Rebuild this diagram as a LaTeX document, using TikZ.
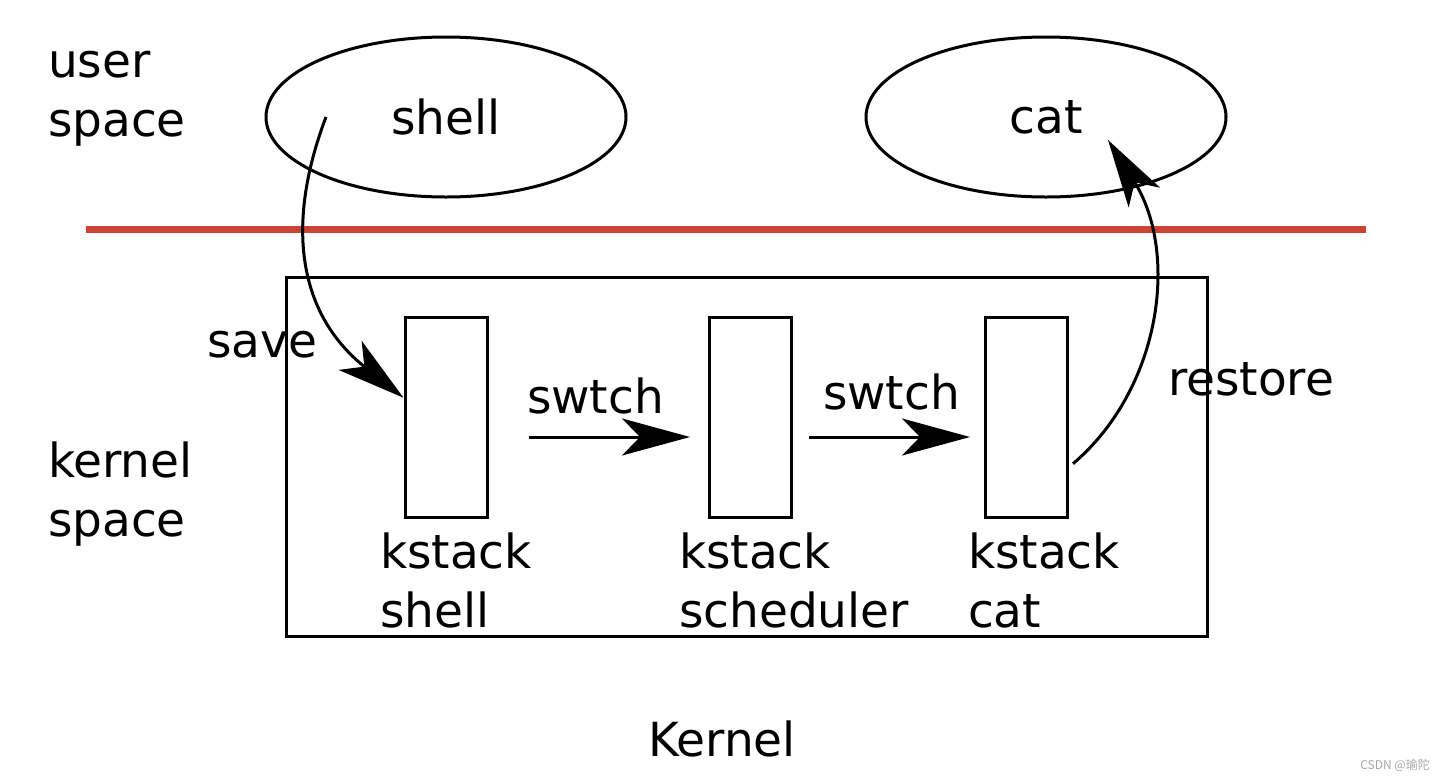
\documentclass[tikz,border=0pt]{standalone}
\usepackage{fontspec}
\setmainfont{DejaVu Sans}
\newfontfamily\cjk{Noto Sans CJK SC}
\usetikzlibrary{arrows.meta,shapes.geometric,calc}
\definecolor{divred}{RGB}{204,68,51}
\begin{document}
\begin{tikzpicture}[x=1pt,y=-1pt,
  lbl/.style={inner sep=0pt,outer sep=0pt,font=\fontsize{47}{59}\selectfont,align=left,anchor=base west},
  proc/.style={draw,ellipse,line width=3pt,minimum width=360pt,minimum height=160pt,inner sep=0pt,font=\fontsize{47}{59}\selectfont},
  stackbox/.style={draw,rectangle,line width=3pt,minimum width=82pt,minimum height=200pt,inner sep=0pt},
  bigarrow/.style={line width=3pt,-{Stealth[length=68pt,width=37pt,inset=18pt]}}]
\useasboundingbox (0,0) rectangle (1446,780);
% labels of spaces
\node[lbl] (us) at (48,136) {user\\space};
\node[lbl] (ks) at (48,536) {kernel\\space};
% processes
\node[proc] (shellE) at (446,117) {shell};
\node[proc] (catE) at (1046,117) {cat};
% divider
\coordinate (rl) at (86,229);
\coordinate (rr) at (1366,229);
\draw[divred,line width=7pt] (rl) -- (rr);
% kernel box
\node[draw,line width=3pt,minimum width=921pt,minimum height=359pt,inner sep=0pt] (kbox) at (746.5,456.5) {};
% kernel stacks
\node[stackbox] (k1) at (446,417) {};
\node[stackbox] (k2) at (750.5,417) {};
\node[stackbox] (k3) at (1026.5,417) {};
\node[lbl] (l1) at (380,627) {kstack\\shell};
\node[lbl] (l2) at (679,627) {kstack\\scheduler};
\node[lbl] (l3) at (968,627) {kstack\\cat};
% edge labels
\node[lbl] (save) at (207,357) {save};
\node[lbl] (sw1) at (527,413) {swtch};
\node[lbl] (sw2) at (823,409) {swtch};
\node[lbl] (rest) at (1168,395) {restore};
\node[inner sep=0pt,font=\fontsize{47}{59}\selectfont,anchor=base] (kern) at (722,756) {Kernel};
% connectors
\coordinate (sstart) at (326,117);
\coordinate (cend) at (1108,140);
\draw[bigarrow] (sstart) .. controls (285,225) and (298,314) .. ($(k1.north west)!0.405!(k1.south west)$);
\draw[bigarrow] ([xshift=40pt,yshift=-20pt]k1.east) -- ([xshift=-18pt,yshift=-20pt]k2.west);
\draw[bigarrow] ([xshift=16pt,yshift=-20pt]k2.east) -- ([xshift=-14pt,yshift=-20pt]k3.west);
\draw[bigarrow] ([xshift=4pt]$(k3.north east)!0.73!(k3.south east)$) .. controls (1160,390) and (1180,254) .. (cend);
% watermark
\node[inner sep=0pt,anchor=base east,text=gray!70,font=\cjk\fontsize{12}{14}\selectfont] (wm) at (1430,769) {CSDN @瑜陀};
\end{tikzpicture}
\end{document}
